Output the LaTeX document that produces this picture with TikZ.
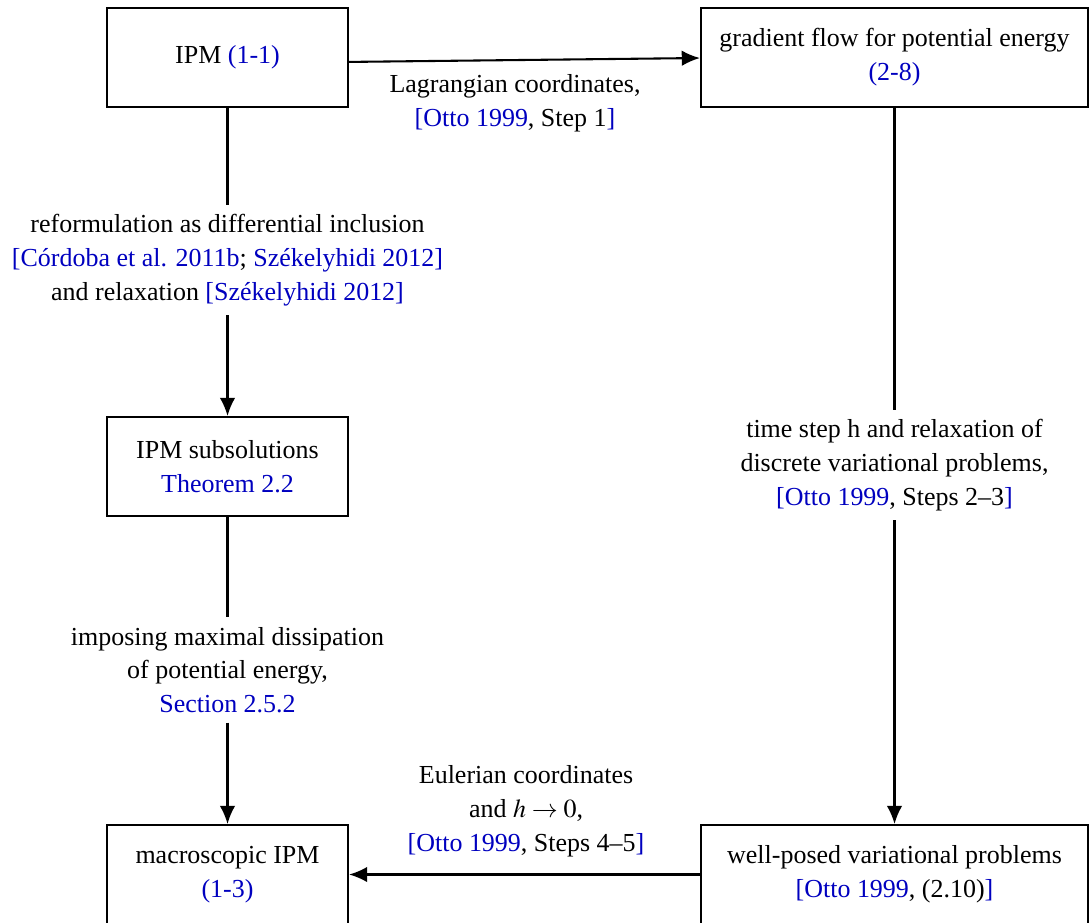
\documentclass[tikz,border=0pt]{standalone}
\usepackage{mathptmx}
\usepackage{fontspec}
\setmainfont{Liberation Serif}
\usetikzlibrary{arrows.meta}

\definecolor{ref_blue}{rgb}{0,0,0.75}

\begin{document}
\begin{tikzpicture}[x=0.385pt, y=-0.385pt]
        \tikzset{
            box/.style={
                draw,
                line width=0.8pt,
                align=center,
                minimum width=#1,
                minimum height=38.1pt
            },
            note/.style={
                align=center,
                inner sep=3.5pt
            },
            seta/.style={
                line width=0.8pt,
                -{Latex[length=7pt,width=6pt]}
            }
        }
        \useasboundingbox (0,0) rectangle (1089,922);
        \fontsize{10}{13}\selectfont

        %caixas
        \node[box=92.8pt] (ipm) at (227.5,57.5) {IPM \textcolor{ref_blue}{(1-1)}};
        \node[box=149pt] (grad) at (894.5,57.5) {gradient flow for potential energy\\ \textcolor{ref_blue}{(2-8)}};
        \node[box=92.8pt] (subsol) at (227.5,466.5) {IPM subsolutions\\ \textcolor{ref_blue}{Theorem 2.2}};
        \node[box=92.8pt] (macro) at (227.5,874.5) {macroscopic IPM\\ \textcolor{ref_blue}{(1-3)}};
        \node[box=149pt] (well) at (894.5,874.5) {well-posed variational problems\\ \textcolor{ref_blue}{[Otto 1999}, (2.10)\textcolor{ref_blue}{]}};

        %textos
        \node[note] (lagr) at (515,103) {Lagrangian coordinates,\\ \textcolor{ref_blue}{[Otto 1999}, Step 1\textcolor{ref_blue}{]}};
        \node[note] (reform) at (227.5,260) {reformulation as differential inclusion\\ \textcolor{ref_blue}{[C\'ordoba et al. 2011b}; \textcolor{ref_blue}{Sz\'ekelyhidi 2012]}\\ and relaxation \textcolor{ref_blue}{[Sz\'ekelyhidi 2012]}};
        \node[note] (impose) at (227.5,670) {imposing maximal dissipation\\ of potential energy,\\ \textcolor{ref_blue}{Section 2.5.2}};
        \node[note] (tstep) at (894.5,465) {time step h and relaxation of\\ discrete variational problems,\\ \textcolor{ref_blue}{[Otto 1999}, Steps 2--3\textcolor{ref_blue}{]}};
        \node[note] (euler) at (526,811) {Eulerian coordinates\\ and $h \rightarrow 0$,\\ \textcolor{ref_blue}{[Otto 1999}, Steps 4--5\textcolor{ref_blue}{]}};

        %setas
        \draw[seta] ([yshift=-1.7pt]ipm.east) -- ([yshift=-0.2pt]grad.west);
        \draw[line width=0.8pt] (ipm) -- (reform);
        \draw[seta] (reform) -- (subsol);
        \draw[line width=0.8pt] (subsol) -- (impose);
        \draw[seta] (impose) -- (macro);
        \draw[line width=0.8pt] (grad) -- (tstep);
        \draw[seta] (tstep) -- (well);
        \draw[seta] (well) -- (macro);

    \end{tikzpicture}
\end{document}
